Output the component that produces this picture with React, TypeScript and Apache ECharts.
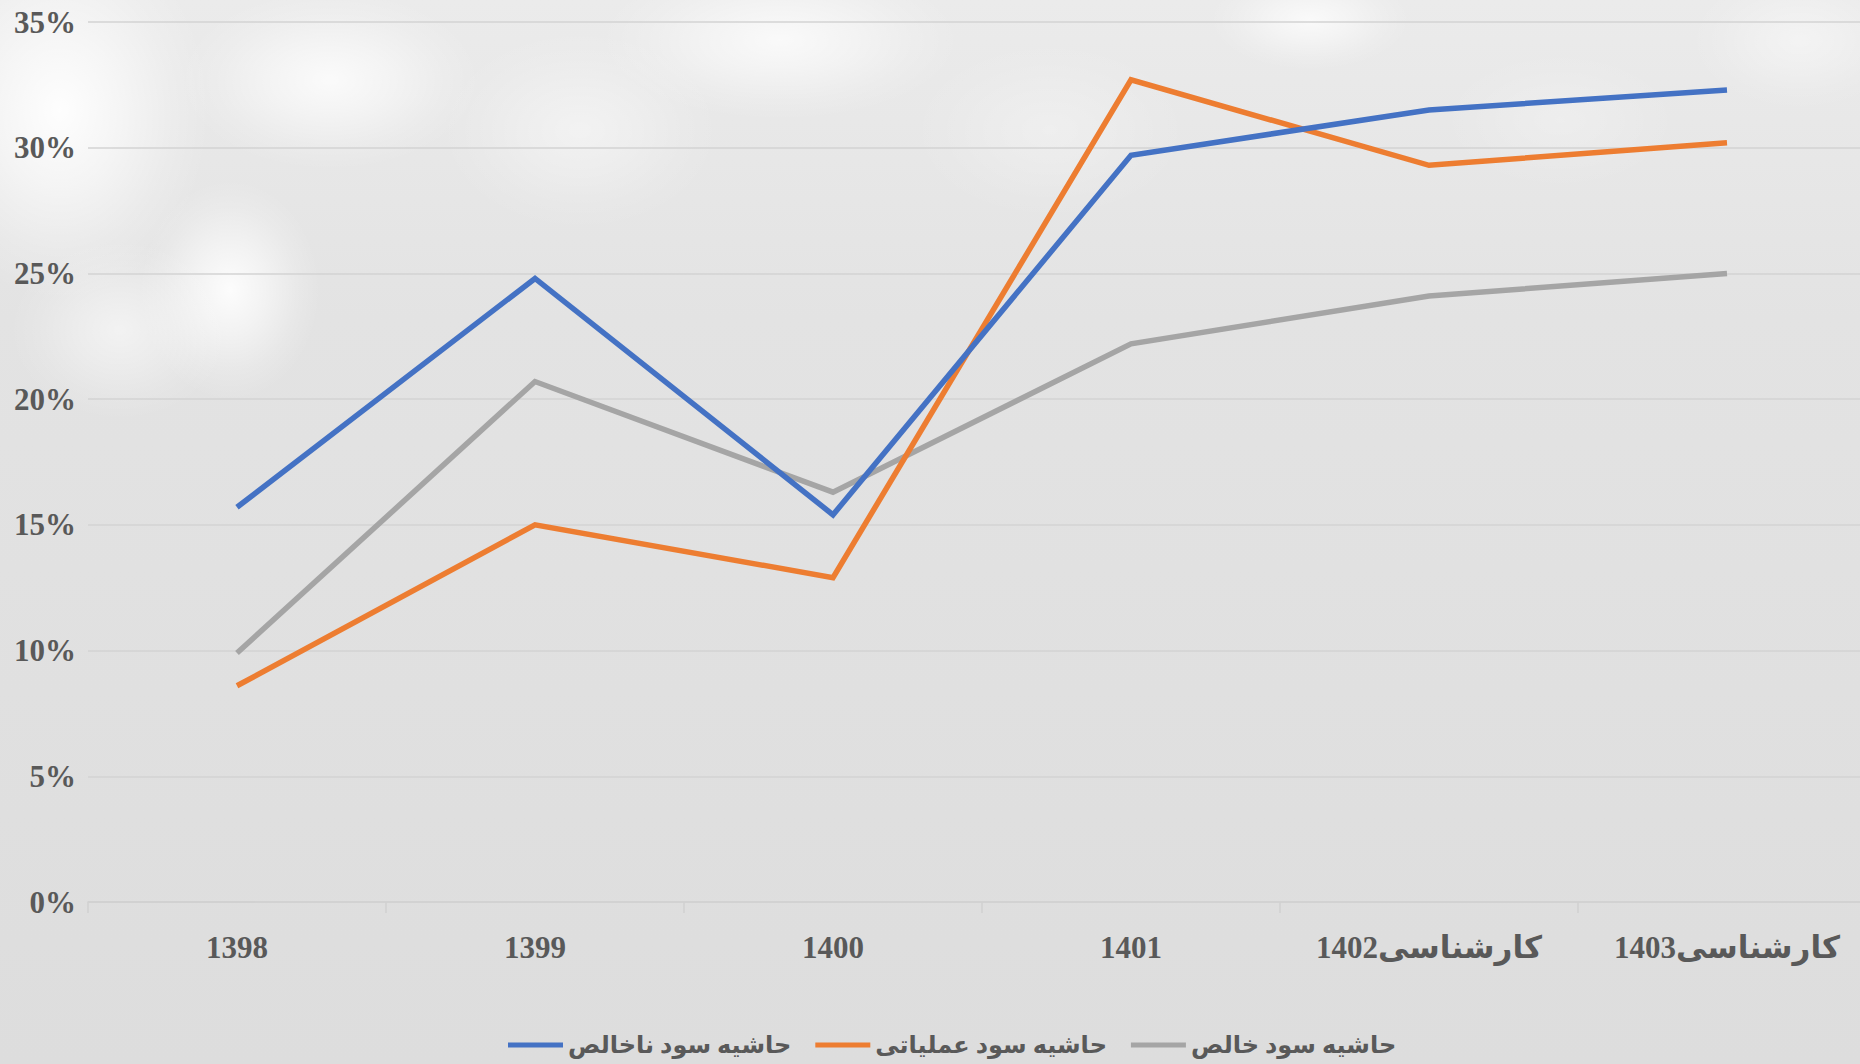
import React, { useEffect, useRef } from "react";
import * as echarts from "echarts";

const categories = ["1398", "1399", "1400", "1401", "کارشناسی1402", "کارشناسی1403"];
const seriesNames = ["حاشیه سود ناخالص", "حاشیه سود عملیاتی", "حاشیه سود خالص"];
const grossMargin = [15.7, 24.8, 15.4, 29.7, 31.5, 32.3];
const operatingMargin = [8.6, 15.0, 12.9, 32.7, 29.3, 30.2];
const netMargin = [9.9, 20.7, 16.3, 22.2, 24.1, 25.0];
const seriesColors = ["#4472C4", "#ED7D31", "#A5A5A5"];
const yMin = 0;
const yMax = 35;
const yStep = 5;

const FONT = "'Liberation Serif', 'DejaVu Sans', serif";
const TEXT = "#595959";

function blob(cx: number, cy: number, rx: number, ry: number, a: number) {
  return {
    type: "ellipse",
    silent: true,
    z: -10,
    shape: { cx, cy, rx, ry },
    style: {
      fill: new echarts.graphic.RadialGradient(0.5, 0.5, 0.5, [
        { offset: 0, color: `rgba(255,255,255,${a})` },
        { offset: 0.4, color: `rgba(255,255,255,${a * 0.6})` },
        { offset: 0.75, color: `rgba(255,255,255,${a * 0.2})` },
        { offset: 1, color: "rgba(255,255,255,0)" },
      ]),
    },
  };
}

export default function App() {
  const ref = useRef<HTMLDivElement>(null);
  useEffect(() => {
    if (!ref.current) return;
    const chart = echarts.init(ref.current, undefined, { renderer: "svg" });
    const data = [grossMargin, operatingMargin, netMargin];
    chart.setOption({
      animation: false,
      backgroundColor: "#e0e0e0",
      graphic: [
        {
          type: "rect",
          silent: true,
          z: -20,
          shape: { x: 0, y: 0, width: 1880, height: 1064 },
          style: {
            fill: new echarts.graphic.LinearGradient(0, 0, 0, 1, [
              { offset: 0, color: "#ebebeb" },
              { offset: 0.3, color: "#e3e3e3" },
              { offset: 1, color: "#dddddd" },
            ]),
          },
        },
        blob(60, 110, 150, 190, 0.95),
        blob(230, 290, 90, 110, 0.9),
        blob(120, 330, 110, 90, 0.55),
        blob(330, 80, 150, 90, 0.8),
        blob(580, 130, 140, 100, 0.45),
        blob(780, 40, 180, 80, 0.75),
        blob(1310, 20, 100, 50, 0.75),
        blob(1050, 130, 140, 90, 0.3),
        blob(1800, 40, 110, 70, 0.45),
        blob(1560, 120, 120, 70, 0.25),
      ],
      grid: { left: 88, right: 0, top: 22, bottom: 162 },
      legend: {
        data: seriesNames,
        left: 503,
        top: 1028,
        icon: "rect",
        itemWidth: 55,
        itemHeight: 5,
        itemGap: 24,
        textStyle: { color: TEXT, fontSize: 24, fontWeight: "bold", fontFamily: FONT },
      },
      xAxis: {
        type: "category",
        data: categories,
        boundaryGap: true,
        axisLine: { show: true, lineStyle: { color: "#d0d0d0", width: 1.5 } },
        axisTick: { show: true, length: 11, lineStyle: { color: "#d0d0d0", width: 1.5 } },
        axisLabel: { color: TEXT, fontSize: 31, fontWeight: "bold", fontFamily: FONT, margin: 30 },
        splitLine: { show: false },
      },
      yAxis: {
        type: "value",
        min: yMin,
        max: yMax,
        interval: yStep,
        axisLine: { show: false },
        axisTick: { show: false },
        axisLabel: {
          color: TEXT,
          fontSize: 31,
          fontWeight: "bold",
          fontFamily: FONT,
          margin: 12,
          formatter: "{value}%",
        },
        splitLine: { lineStyle: { color: "#d3d3d3", width: 1.5 } },
      },
      series: seriesNames.map((name, i) => ({
        name,
        type: "line",
        data: data[i],
        symbol: "none",
        color: seriesColors[i],
        lineStyle: { width: 5.5, color: seriesColors[i], cap: "butt", join: "miter" },
        z: 3 + (i === 0 ? 2 : i === 1 ? 1 : 0),
      })),
    });
    return () => chart.dispose();
  }, []);
  return (
    <div style={{ position: "fixed", left: 0, top: 0, width: 1860, height: 1064, overflow: "hidden" }}>
      <div ref={ref} style={{ width: 1876, height: 1064 }} />
    </div>
  );
}
